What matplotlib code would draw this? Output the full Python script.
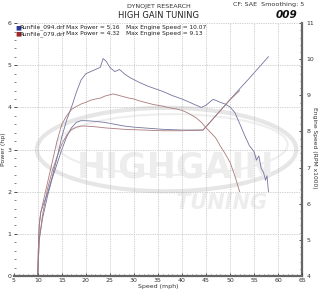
import matplotlib
matplotlib.use("Agg")
import matplotlib.pyplot as plt
from matplotlib.patches import Ellipse
from matplotlib.ticker import MultipleLocator

# ---------------- data ----------------
p094_mph = [10.0, 10.1, 10.3, 10.6, 11, 12, 13, 14, 15, 16, 17, 18, 19, 20, 21, 22, 23,
            23.6, 24.2, 25, 26, 27, 28, 29, 30, 31, 32, 33, 34, 35, 36, 37, 38, 39, 40,
            41, 42, 43, 44, 45, 46, 46.5, 47, 48, 49, 50, 51, 52, 53, 54, 55, 55.5, 56,
            56.5, 57, 57.4, 57.7, 58]
p094_hp = [0.0, 0.6, 1.2, 1.5, 1.65, 1.95, 2.35, 2.8, 3.3, 3.7, 4.0, 4.35, 4.65, 4.8, 4.85,
           4.9, 4.95, 5.16, 5.1, 4.95, 4.85, 4.9, 4.8, 4.72, 4.66, 4.6, 4.55, 4.5, 4.46,
           4.42, 4.38, 4.33, 4.28, 4.24, 4.2, 4.15, 4.1, 4.05, 4.0, 4.05, 4.15, 4.19, 4.17,
           4.12, 4.08, 4.01, 3.88, 3.62, 3.35, 3.1, 2.95, 2.75, 2.85, 2.55, 2.45, 2.27, 2.38, 2.0]

p079_mph = [10.0, 10.1, 10.3, 10.6, 11, 12, 13, 14, 15, 16, 17, 18, 19, 20, 21, 22, 23, 24,
            25, 25.7, 27, 28, 29, 30, 31, 32, 33, 34, 35, 36, 37, 38, 39, 40, 41, 42, 43,
            44, 45, 46, 47, 48, 49, 50, 51, 52]
p079_hp = [0.0, 0.6, 1.2, 1.5, 1.7, 2.2, 2.7, 3.2, 3.6, 3.8, 3.95, 4.02, 4.08, 4.12, 4.17,
           4.2, 4.22, 4.27, 4.3, 4.32, 4.28, 4.25, 4.22, 4.2, 4.16, 4.13, 4.1, 4.07, 4.05,
           4.03, 4.0, 3.98, 3.96, 3.93, 3.88, 3.82, 3.75, 3.65, 3.52, 3.4, 3.28, 3.08,
           2.9, 2.7, 2.38, 2.0]

r094_mph = [10, 10.3, 11, 12, 13, 14, 15, 16, 17, 18, 19, 20, 22, 24, 26, 28, 30, 32, 34,
            36, 38, 40, 42, 44.4, 46, 48, 50, 52, 54, 56, 58]
r094_rpm = [4.0, 5.0, 5.6, 6.2, 6.7, 7.1, 7.5, 7.85, 8.1, 8.25, 8.3, 8.3, 8.28, 8.25, 8.2,
            8.15, 8.12, 8.1, 8.08, 8.06, 8.05, 8.04, 8.04, 8.04, 8.28, 8.58, 8.88, 9.18,
            9.47, 9.77, 10.07]

r079_mph = [10, 10.3, 11, 12, 13, 14, 15, 16, 17, 18, 19, 20, 22, 24, 26, 28, 30, 32, 34,
            36, 38, 40, 42, 44.4, 46, 48, 50, 52]
r079_rpm = [4.0, 5.0, 5.7, 6.4, 6.9, 7.3, 7.65, 7.9, 8.05, 8.12, 8.15, 8.15, 8.13, 8.1,
            8.08, 8.06, 8.05, 8.04, 8.03, 8.02, 8.02, 8.02, 8.03, 8.04, 8.28, 8.58, 8.88, 9.13]

x_ticks = [5, 10, 15, 20, 25, 30, 35, 40, 45, 50, 55, 60, 65]
hp_ticks = [0, 1, 2, 3, 4, 5, 6]
rpm_ticks = [4, 5, 6, 7, 8, 9, 10, 11]

legend_rows = [
    ("RunFile_094.drf", "Max Power = 5.16", "Max Engine Speed = 10.07", "#2a3a9a"),
    ("RunFile_079.drf", "Max Power = 4.32", "Max Engine Speed = 9.13", "#a02828"),
]

# ---------------- figure ----------------
c_blue = "#74749f"
c_red = "#ab7a7a"
fs = 4.5

fig = plt.figure(figsize=(3.2, 2.9), dpi=100)
ax = fig.add_axes([0.043, 0.0483, 0.901, 0.872])
ax2 = ax.twinx()
ax.set_zorder(ax2.get_zorder() + 1)
ax.patch.set_visible(False)

ax.set_xlim(5, 65)
ax.set_ylim(0, 6)
ax2.set_ylim(4, 11)

# watermark
ax2.add_patch(Ellipse((0.53, 0.50), 0.90, 0.33, transform=ax2.transAxes,
                      fill=False, ec="#e6e6e6", lw=3.0, zorder=0))
ax2.add_patch(Ellipse((0.55, 0.52), 0.80, 0.24, transform=ax2.transAxes,
                      fill=False, ec="#eeeeee", lw=1.5, zorder=0))
ax2.text(0.56, 0.43, "HIGHGAIN", transform=ax2.transAxes, ha="center", va="center",
         fontsize=25, fontweight="bold", color="#ededed", zorder=0)
ax2.text(0.72, 0.29, "TUNING", transform=ax2.transAxes, ha="center", va="center",
         fontsize=15, fontweight="bold", style="italic", color="#ededed", zorder=0)

# grid
for xv in x_ticks[1:-1]:
    ax.axvline(xv, color="#a8a8a8", lw=0.5, ls=(0, (1, 1.5)), zorder=0)
for yv in hp_ticks[1:]:
    ax.axhline(yv, color="#a8a8a8", lw=0.5, ls=(0, (1, 1.5)), zorder=0)

# curves
ax2.plot(r094_mph, r094_rpm, color=c_blue, lw=0.6)
ax2.plot(r079_mph, r079_rpm, color=c_red, lw=0.6)
ax.plot(p094_mph, p094_hp, color=c_blue, lw=0.6)
ax.plot(p079_mph, p079_hp, color=c_red, lw=0.6)

# ticks
ax.set_xticks(x_ticks)
ax.set_yticks(hp_ticks)
ax2.set_yticks(rpm_ticks)
ax.xaxis.set_minor_locator(MultipleLocator(1))
ax.yaxis.set_minor_locator(MultipleLocator(0.2))
ax2.yaxis.set_minor_locator(MultipleLocator(0.2))
ax.tick_params(axis="both", which="major", labelsize=fs, length=2.5, width=0.6,
               direction="in", pad=1.5, colors="#333333")
ax.tick_params(axis="both", which="minor", length=1.5, width=0.5, direction="in",
               colors="#555555")
ax2.tick_params(axis="y", which="major", labelsize=fs, length=2.5, width=0.6,
                direction="in", pad=3, colors="#333333")
ax2.tick_params(axis="y", which="minor", length=1.5, width=0.5, direction="in",
                colors="#555555")
for a in (ax, ax2):
    a.spines["top"].set_visible(False)
    a.spines["left"].set_visible(False)
ax2.spines["right"].set_linewidth(1.6)
ax2.spines["right"].set_color("#666666")
ax.spines["right"].set_visible(False)
ax.spines["bottom"].set_linewidth(1.6)
ax.spines["bottom"].set_color("#666666")
ax2.spines["bottom"].set_visible(False)

ax.set_xlabel("Speed (mph)", fontsize=fs, labelpad=0.5, color="#333333")
ax.set_ylabel("Power (hp)", fontsize=fs, labelpad=1, color="#333333")
fig.text(0.984, 0.49, "Engine Speed (RPM x1000)", fontsize=4.3, rotation=270,
         ha="center", va="center", color="#333333")

# header texts
fig.text(0.495, 0.978, "DYNOJET RESEARCH", ha="center", va="center", fontsize=4.6,
         color="#333333")
fig.text(0.495, 0.947, "HIGH GAIN TUNING", ha="center", va="center", fontsize=6,
         color="#222222")
fig.text(0.84, 0.985, "CF: SAE  Smoothing: 5", ha="center", va="center", fontsize=4.6,
         color="#333333")
fig.text(0.895, 0.947, "009", ha="center", va="center", fontsize=7.5,
         fontweight="bold", style="italic", color="#111111")

# legend rows
for i, (name, pw, sp, col) in enumerate(legend_rows):
    yy = 0.905 - i * 0.022
    fig.text(0.047, yy, "\u25A0", color=col, fontsize=4.5, ha="left", va="center")
    fig.text(0.062, yy, name, fontsize=4.2, ha="left", va="center", color="#222222")
    fig.text(0.205, yy, pw, fontsize=4.2, ha="left", va="center", color="#222222")
    fig.text(0.393, yy, sp, fontsize=4.2, ha="left", va="center", color="#222222")

fig.savefig("out.png", dpi=100, facecolor="white")
